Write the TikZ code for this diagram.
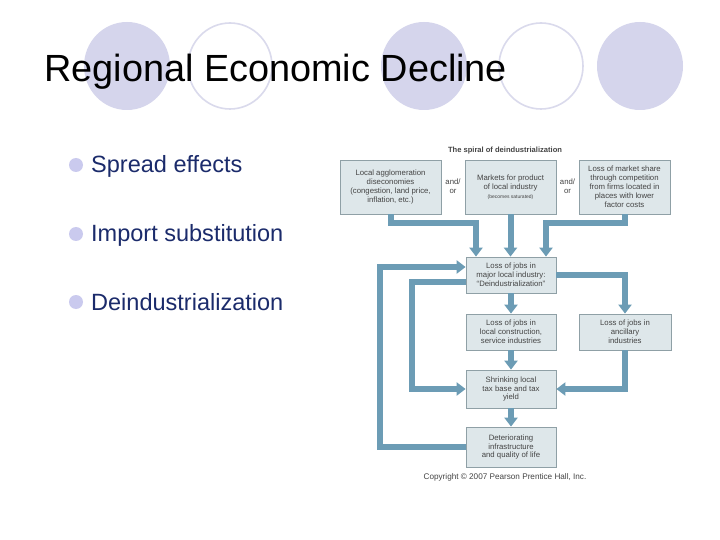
\documentclass[tikz,border=0pt]{standalone}
\usepackage{fontspec}
\setmainfont{Liberation Sans}
\usetikzlibrary{arrows.meta}
\usetikzlibrary{calc}

\definecolor{bulletlav}{HTML}{CACAEE}
\definecolor{disclav}{HTML}{D5D5EC}
\definecolor{ringlav}{HTML}{DADAEC}
\definecolor{navytext}{HTML}{1B2B6B}
\definecolor{boxfill}{HTML}{DEE7EA}
\definecolor{boxline}{HTML}{8FA0A6}
\definecolor{flowblue}{HTML}{6C9CB5}
\definecolor{boxtext}{HTML}{444444}

\begin{document}
\begin{tikzpicture}[x=1bp, y=-1bp,
    box/.style={draw=boxline, line width=0.8bp, fill=boxfill, align=center, inner sep=0pt, text=boxtext, font=\fontsize{7.8}{9}\selectfont},
    andor/.style={align=center, inner sep=0pt, text=boxtext, font=\fontsize{7.8}{9}\selectfont},
    flow/.style={draw=flowblue, line width=6bp, -{Triangle[width=13bp,length=9bp]}},
    point/.style={anchor=base west, inner sep=0pt, text=navytext, font=\fontsize{23.6}{27}\selectfont}]
          \path[use as bounding box, fill=white] (0,0) rectangle (720,540);

          % title discs
          \fill[disclav] (127,66) ellipse [x radius=43bp, y radius=44bp];
          \draw[ringlav, line width=1.6bp] (230,66) ellipse [x radius=42bp, y radius=43bp];
          \fill[disclav] (424,66) ellipse [x radius=43bp, y radius=44bp];
          \draw[ringlav, line width=1.6bp] (541,66) ellipse [x radius=42bp, y radius=43bp];
          \fill[disclav] (640,66) ellipse [x radius=43bp, y radius=44bp];

          \node[anchor=base west, inner sep=0pt, font=\fontsize{38}{40}\selectfont] (title) at (44,82) {Regional Economic Decline};

          % bullets
          \fill[bulletlav] (76,165) circle [radius=7bp];
          \node[point] (p1) at (91,173) {Spread effects};

          \fill[bulletlav] (76,234) circle [radius=7bp];
          \node[point] (p2) at (91,242) {Import substitution};

          \fill[bulletlav] (76,302) circle [radius=7bp];
          \node[point] (p3) at (91,310) {Deindustrialization};

          % spiral
          \node[inner sep=0pt, text=boxtext, font=\fontsize{7.6}{9}\selectfont\bfseries] (head) at (505,151) {The spiral of deindustrialization};

          \node[box, minimum width=101bp, minimum height=54bp] (aggl) at (390.5,187) {Local agglomeration\\diseconomies\\(congestion, land price,\\inflation, etc.)};

          \node[box, minimum width=91bp, minimum height=54bp] (mkt) at (510.5,187) {Markets for product\\of local industry\\{\fontsize{5}{6}\selectfont (becomes saturated)}};

          \node[box, minimum width=91bp, minimum height=54bp] (share) at (624.5,187) {Loss of market share\\through competition\\from firms located in\\places with lower\\factor costs};

          \node[andor] (or1) at (453,186) {and/\\or};
          \node[andor] (or2) at (567.5,186) {and/\\or};

          \node[box, minimum width=90bp, minimum height=36bp] (deind) at (511,275) {Loss of jobs in\\major local industry:\\“Deindustrialization”};

          \node[box, minimum width=90bp, minimum height=36bp] (serv) at (511,332) {Loss of jobs in\\local construction,\\service industries};

          \node[box, minimum width=92bp, minimum height=36bp] (anc) at (625,332) {Loss of jobs in\\ancillary\\industries};

          \node[box, minimum width=90bp, minimum height=38bp] (tax) at (511,389) {Shrinking local\\tax base and tax\\yield};

          \node[box, minimum width=90bp, minimum height=40bp] (infra) at (511,447) {Deteriorating\\infrastructure\\and quality of life};

          \node[inner sep=0pt, text=boxtext, font=\fontsize{8.2}{9}\selectfont] (copy) at (505,477) {Copyright © 2007 Pearson Prentice Hall, Inc.};

          \coordinate (j1) at (476,223);
          \coordinate (j2) at (546,223);
          \coordinate (inner) at (412,282);
          \coordinate (outer) at (380,267);

          \draw[flow] (aggl.south) |- (j1) -- (j1 |- deind.north);
          \draw[flow] (mkt.south) -- (mkt.south |- deind.north);
          \draw[flow] (share.south) |- (j2) -- (j2 |- deind.north);
          \draw[flow] (deind.east) -| (anc.north);
          \draw[flow] (deind.south) -- (serv.north);
          \draw[flow] (serv.south) -- (tax.north);
          \draw[flow] (tax.south) -- (infra.north);
          \draw[flow] (anc.south) |- (tax.east);
          \draw[flow] (inner -| deind.west) -- (inner) |- (tax.west);
          \draw[flow] (infra.west) -| (outer) -- (outer -| deind.west);
        \end{tikzpicture}
\end{document}
